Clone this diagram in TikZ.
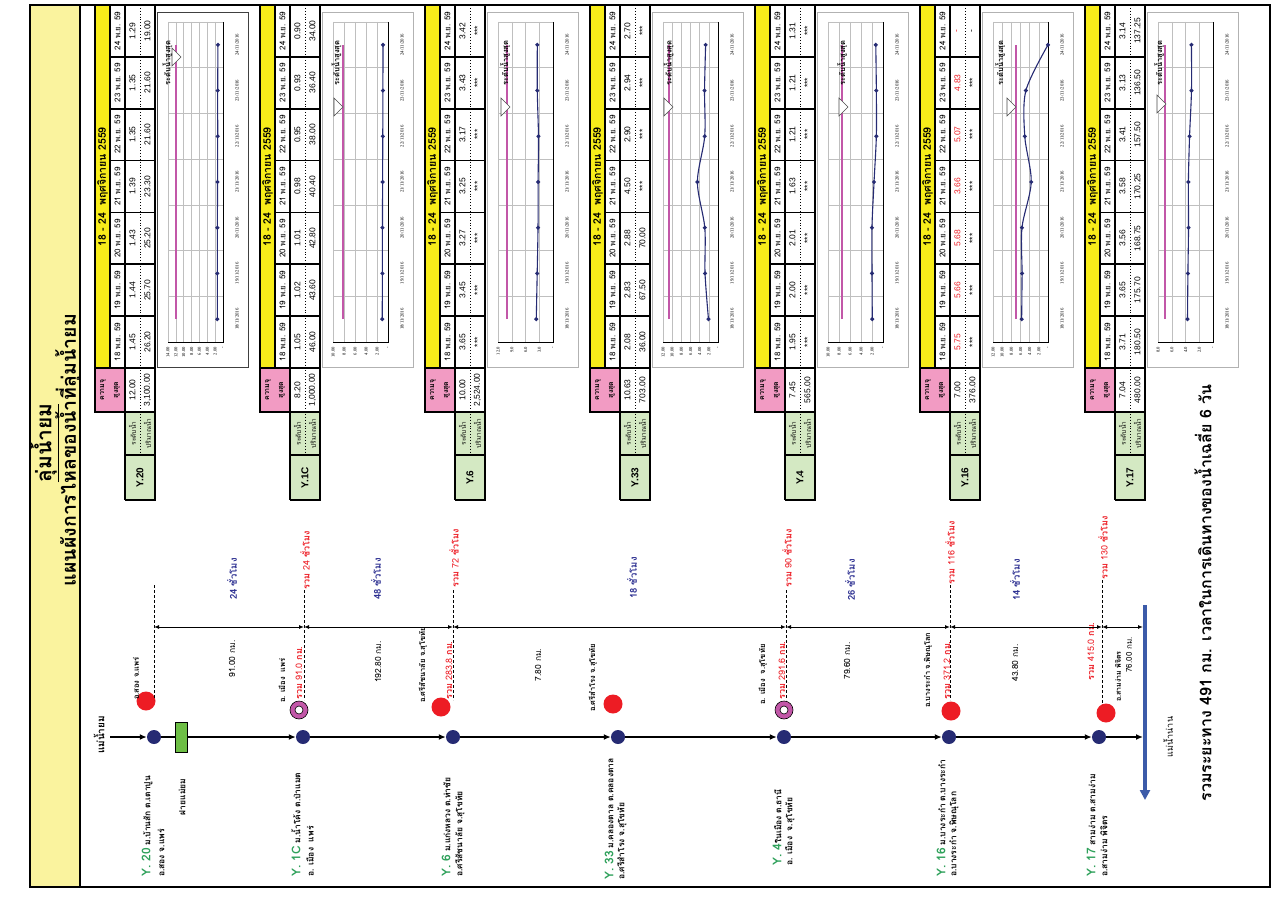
\documentclass[tikz,border=0pt]{standalone}
\usepackage{fontspec}
\setmainfont{Loma}[Script=Thai]
\newfontfamily\latf{Liberation Sans}
\newfontfamily\serf{Liberation Serif}
\usetikzlibrary{arrows.meta}
\newcommand\fsz[1]{\fontsize{#1}{#1}\selectfont}
\definecolor{bandy}{HTML}{FAF39E}
\definecolor{hdry}{HTML}{F7EC1A}
\definecolor{pinkc}{HTML}{F29BC3}
\definecolor{grc}{HTML}{D4E9C3}
\definecolor{navy}{HTML}{262B73}
\definecolor{magl}{HTML}{C257A8}
\definecolor{redc}{HTML}{ED1C24}
\definecolor{ygreen}{HTML}{2FA15B}
\definecolor{hrblue}{HTML}{2E3192}
\definecolor{damg}{HTML}{6DBE45}
\definecolor{nanblue}{HTML}{3C5BA9}
\tikzset{
 rt/.style={rotate=90,inner sep=0pt},
 tb/.style={line width=1.6pt,black},
 gridl/.style={black!25,line width=0.5pt},
 stdot/.style={circle,fill=navy,minimum size=14pt,inner sep=0pt},
 redm/.style={circle,fill=redc,minimum size=19pt,inner sep=0pt},
 ringm/.style={circle,fill=magl,draw=black,line width=0.6pt,minimum size=18pt,inner sep=0pt},
 ringin/.style={circle,fill=white,draw=black,line width=0.6pt,minimum size=8pt,inner sep=0pt},
 river/.style={line width=2.2pt,-{Latex[length=7pt,width=6pt]}},
 dimln/.style={line width=1pt,{Latex[length=5pt,width=4pt]}-{Latex[length=5pt,width=4pt]}},
 dsh/.style={line width=0.8pt,dash pattern=on 3pt off 2pt},
 stlab/.style={rt,anchor=west,font=\bfseries\fsz{8.5}},
 loclab/.style={rt,anchor=west,font=\bfseries\fsz{7.5}},
 totlab/.style={rt,anchor=west,text=redc,font=\bfseries\fsz{9}},
 kmlab/.style={rt,font=\fsz{8.5}},
 hrlab/.style={rt,text=hrblue,font=\bfseries\fsz{9.5}},
}
\newcommand\sttab[7]{%
\begin{scope}[shift={(#1,0)}]
\fill[hdry] (0,5) rectangle (15,368);
\fill[white] (15,5) rectangle (60,368);
\fill[pinkc] (0,368) rectangle (30,412);
\fill[white] (30,368) rectangle (60,412);
\fill[grc] (30,412) rectangle (60,500);
\node[rt,font=\bfseries\fsz{10.5}] at (7.5,187) {18 - 24 \ พฤศจิกายน 2559};
\node[rt,font=\bfseries\fsz{7}] at (8,390) {ความจุ};
\node[rt,font=\bfseries\fsz{7}] at (22,390) {สูงสุด};
\node[rt,font=\latf\fsz{8.5}] at (37.5,390) {#3};
\node[rt,font=\latf\fsz{8.5}] at (52.5,390) {#4};
\node[rt,font=\fsz{6.5}] at (37.5,433.5) {ระดับน้ำ};
\node[rt,font=\fsz{6.5}] at (52.5,433.5) {ปริมาณน้ำ};
\node[rt,font=\latf\bfseries\fsz{10}] at (45,477.5) {#2};
\foreach \dd [count=\kk from 0] in {18,...,24}
  \node[rt,font=\fsz{8}] at (22.5,{368-51.857*(\kk+0.5)}) {\dd\ พ.ย. 59};
\foreach \vv [count=\kk from 0] in {#5}
  \node[rt,font=\latf\fsz{8.5},text=#7] at (37.5,{368-51.857*(\kk+0.5)}) {\vv};
\foreach \vv [count=\kk from 0] in {#6}
  \node[rt,font=\latf\fsz{8.5}] at (52.5,{368-51.857*(\kk+0.5)}) {\vv};
\draw[line width=0.9pt,dotted] (45,5) -- (45,455);
\foreach \kk in {1,...,6} \draw[tb] (15,{368-51.857*\kk}) -- (60,{368-51.857*\kk});
\draw[tb] (15,5) -- (15,368);
\draw[tb] (30,5) -- (30,500);
\draw[tb] (0,368) -- (60,368);
\draw[tb] (30,412) -- (60,412);
\draw[tb] (30,455) -- (60,455);
\draw[tb] (0,5) -- (0,412) -- (30,412);
\draw[tb] (60,5) -- (60,500) -- (30,500);
\draw[tb] (0,5) -- (60,5);
\end{scope}}
\newcommand\stchart[9]{%
\begin{scope}[shift={(#1,0)}]
\filldraw[fill=white,draw=#9,line width=0.9pt] (62,12) rectangle (153,367);
\foreach \vv/\lb in {#3} {
  \draw[gridl] ({128-55*\vv/#2},22) -- ({128-55*\vv/#2},342);
  \node[rt,anchor=east,font=\serf\fsz{4.6}] at ({128-55*\vv/#2},347) {\lb};
}
\foreach \kk in {0,...,7} \draw[gridl] (73,{342-45.714*\kk}) -- (128,{342-45.714*\kk});
\foreach \dd [count=\kk from 0] in {18,...,24}
  \node[rt,font=\serf\fsz{4.8}] at (142,{342-45.714*(\kk+0.5)}) {\dd/11/2016};
\draw[line width=0.8pt] (73,342) -- (128,342) -- (128,22);
\draw[magl,line width=2.2pt] ({128-55*#4/#2},{342-45.714*0.5}) -- ({128-55*#4/#2},{342-45.714*6.5});
\foreach \vv [count=\kk from 0] in {#5}
  \coordinate (c#1-\kk) at ({128-55*\vv/#2},{342-45.714*(\kk+0.5)});
\draw[navy,line width=1.1pt] plot[smooth,tension=0.5] coordinates {(c#1-0) (c#1-1) (c#1-2) (c#1-3) (c#1-4) (c#1-5) (c#1-6)};
\foreach \kk in {0,...,6} \fill[navy] (c#1-\kk) ++(-2.2,0) -- ++(2.2,-2.2) -- ++(2.2,2.2) -- ++(-2.2,2.2) -- cycle;
\filldraw[fill=white,draw=black!70,line width=0.6pt] (#7,{#8-9}) -- ({#7+9},#8) -- (#7,{#8+9}) -- cycle;
\node[rt,font=\bfseries\fsz{7.5}] at (#6,63) {ระดับน้ำสูงสุด};
\end{scope}}
\begin{document}
\begin{tikzpicture}[x=1pt,y=-1pt]
\useasboundingbox (0,0) rectangle (1272,899);
\fill[white] (0,0) rectangle (1272,899);
\fill[bandy] (30,5) rectangle (80,887);
\draw[line width=2pt] (30,5) rectangle (1270,887);
\draw[line width=2pt] (80,5) -- (80,887);
% title
\node[rt,font=\bfseries\fsz{21}] (t1) at (44,443) {\underline{ลุ่มน้ำยม}};
\node[rt,font=\bfseries\fsz{19.5}] (t2) at (68,450) {แผนผังการไหลของน้ำที่ลุ่มน้ำยม};
% tables
\sttab{95}{Y.20}{12.00}{3,100.00}{1.45,1.44,1.43,1.39,1.35,1.35,1.29}{26.20,25.70,25.20,23.30,21.60,21.60,19.00}{black}
\sttab{260}{Y.1C}{8.20}{1,000.00}{1.05,1.02,1.01,0.98,0.95,0.93,0.90}{46.00,43.60,42.80,40.40,38.00,36.40,34.00}{black}
\sttab{425}{Y.6}{10.00}{2,524.00}{3.65,3.45,3.27,3.25,3.17,3.43,3.42}{***,***,***,***,***,***,***}{black}
\sttab{590}{Y.33}{10.63}{703.00}{2.08,2.83,2.88,4.50,2.90,2.94,2.70}{36.00,67.50,70.00,***,***,***,***}{black}
\sttab{755}{Y.4}{7.45}{565.00}{1.95,2.00,2.01,1.63,1.21,1.21,1.31}{***,***,***,***,***,***,***}{black}
\sttab{920}{Y.16}{7.00}{376.00}{5.75,5.66,5.68,3.66,5.07,4.83,-}{***,***,***,***,***,***,-}{redc}
\sttab{1085}{Y.17}{7.04}{480.00}{3.71,3.65,3.56,3.58,3.41,3.13,3.14}{180.50,175.70,168.75,170.25,157.50,136.50,137.25}{black}
% charts
\stchart{95}{14}{0/-,2/2.00,4/4.00,6/6.00,8/8.00,10/10.00,12/12.00,14/14.00}{12}{1.45,1.44,1.43,1.39,1.35,1.35,1.29}{72.5}{77}{57}{black!75}
\stchart{260}{10}{0/-,2/2.00,4/4.00,6/6.00,8/8.00,10/10.00}{8.2}{1.05,1.02,1.01,0.98,0.95,0.93,0.90}{76.5}{74}{107}{black!30}
\stchart{425}{12}{0/-,3/3.0,6/6.0,9/9.0,12/12.0}{10}{3.65,3.45,3.27,3.25,3.17,3.43,3.42}{80}{76}{107}{black!30}
\stchart{590}{12}{0/-,2/2.00,4/4.00,6/6.00,8/8.00,10/10.00,12/12.00}{10.63}{2.08,2.83,2.88,4.50,2.90,2.94,2.70}{78.5}{74}{107}{black!30}
\stchart{755}{10}{0/-,2/2.00,4/4.00,6/6.00,8/8.00,10/10.00}{7.45}{1.95,2.00,2.01,1.63,1.21,1.21,1.31}{87}{84}{107}{black!30}
\stchart{920}{12}{0/-,2/2.00,4/4.00,6/6.00,8/8.00,10/10.00,12/12.00}{7}{5.75,5.66,5.68,3.66,5.07,4.83,0}{80}{87}{107}{black!30}
\stchart{1085}{8}{0/-,2/2.0,4/4.0,6/6.0,8/8.0}{7.04}{3.71,3.65,3.56,3.58,3.41,3.13,3.14}{74}{72}{104}{black!30}
% river
\node[stdot] (d20) at (154,737) {};
\node[stdot] (d1c) at (303,737) {};
\node[stdot] (d6) at (453,737) {};
\node[stdot] (d33) at (618,737) {};
\node[stdot] (d4) at (784,737) {};
\node[stdot] (d16) at (949,737) {};
\node[stdot] (d17) at (1099,737) {};
\coordinate (rs) at (110,737);
\coordinate (rn) at (1143,737);
\draw[river] (rs) -- (d20);
\draw[river] (d20) -- (d1c);
\draw[river] (d1c) -- (d6);
\draw[river] (d6) -- (d33);
\draw[river] (d33) -- (d4);
\draw[river] (d4) -- (d16);
\draw[river] (d16) -- (d17);
\draw[river] (d17) -- (rn);
\node[draw=black,fill=damg,line width=0.6pt,minimum width=12pt,minimum height=30pt,inner sep=0pt] (dam) at (181,737) {};
\node[rt,font=\bfseries\fsz{8.5}] (damlab) at (182,797) {ฝายแม่ยม};
\node[rt,font=\bfseries\fsz{10}] (ymlab) at (99,735) {แม่น้ำยม};
\coordinate (nt) at (1145,605);
\coordinate (nb) at (1145,800);
\draw[nanblue,line width=4pt,-{Triangle[length=10pt,width=10pt]}] (nt) -- (nb);
\node[rt,font=\fsz{9}] (nanlab) at (1168,737) {แม่น้ำน่าน};
% markers
\node[redm] (m20) at (146,701) {};
\node[ringm] (m1c) at (299,710) {}; \node[ringin] (m1ci) at (m1c) {};
\node[redm] (m6) at (441,707) {};
\node[redm] (m33) at (613,704) {};
\node[ringm] (m4) at (784,710) {}; \node[ringin] (m4i) at (m4) {};
\node[redm] (m16) at (951,711) {};
\node[redm] (m17) at (1106,713) {};
\node[loclab] (l20) at (136,700) {อ.สอง จ.แพร่};
\node[loclab] (l1c) at (282,703) {อ. เมือง \ แพร่};
\node[loclab] (l6) at (423,703) {อ.ศรีสัชนาลัย จ.สุโขทัย};
\node[loclab] (l33) at (593,712) {อ.ศรีสำโรง จ.สุโขทัย};
\node[loclab] (l4) at (763,705) {อ. เมือง \ จ.สุโขทัย};
\node[loclab] (l16) at (928,708) {อ.บางระกำ จ.พิษณุโลก};
\node[loclab,font=\bfseries\fsz{7}] (l17) at (1118,702) {อ.สามง่าม พิจิตร};
% dashed verticals
\coordinate (q20t) at (154,585); \coordinate (q20b) at (154,700);
\coordinate (q1ct) at (304,590); \coordinate (q1cb) at (304,700);
\coordinate (q6t) at (453,590); \coordinate (q6b) at (453,700);
\coordinate (q4t) at (786,590); \coordinate (q4b) at (786,700);
\coordinate (q16t) at (950,585); \coordinate (q16b) at (950,700);
\coordinate (q17t) at (1102,580); \coordinate (q17b) at (1102,705);
\foreach \nn in {20,1c,6,4,16,17} \draw[dsh] (q\nn t) -- (q\nn b);
% totals
\node[totlab] (k1c) at (299,700) {รวม {\mdseries 91.0} กม.};
\node[totlab] (h1c) at (305,590) {รวม {\mdseries 24} ชั่วโมง};
\node[totlab] (k6) at (449,700) {รวม {\mdseries 283.8} กม.};
\node[totlab] (h6) at (454,588) {รวม {\mdseries 72} ชั่วโมง};
\node[totlab] (k4) at (782,700) {รวม {\mdseries 291.6} กม.};
\node[totlab] (h4) at (787,588) {รวม {\mdseries 90} ชั่วโมง};
\node[totlab] (k16) at (947,700) {รวม {\mdseries 371.2} กม.};
\node[totlab] (h16) at (950,585) {รวม {\mdseries 116} ชั่วโมง};
\node[totlab] (k17) at (1091,681) {รวม {\mdseries 415.0} กม.};
\node[totlab] (h17) at (1103,580) {รวม {\mdseries 130} ชั่วโมง};
% distance line
\coordinate (e20) at (154,627);
\coordinate (e1c) at (304,627);
\coordinate (e6) at (453,627);
\coordinate (e4) at (786,627);
\coordinate (e16) at (950,627);
\coordinate (e17) at (1102,627);
\coordinate (en) at (1143,627);
\draw[dimln] (e20) -- (e1c);
\draw[dimln] (e1c) -- (e6);
\draw[dimln] (e6) -- (e4);
\draw[dimln] (e4) -- (e16);
\draw[dimln] (e16) -- (e17);
\draw[dimln] (e17) -- (en);
\node[kmlab] at (232,659) {91.00 กม.};
\node[hrlab] at (232,579) {24 ชั่วโมง};
\node[kmlab] at (378,662) {192.80 กม.};
\node[hrlab] at (376,579) {48 ชั่วโมง};
\node[kmlab] at (538,665) {7.80 กม.};
\node[hrlab] at (632,578) {18 ชั่วโมง};
\node[kmlab] at (847,661) {79.60 กม.};
\node[hrlab] at (850,580) {26 ชั่วโมง};
\node[kmlab] at (1015,663) {43.80 กม.};
\node[hrlab] at (1015,580) {14 ชั่วโมง};
\node[kmlab,font=\fsz{8}] at (1129,655) {76.00 กม.};
% station labels
\node[stlab] (s20a) at (147,877) {{\color{ygreen}\fsz{12}Y. 20} ม.บ้านสัก ต.เตาปูน};
\node[stlab] (s20b) at (161,877) {อ.สอง จ.แพร่};
\node[stlab] (s1ca) at (296,877) {{\color{ygreen}\fsz{12}Y. 1C} ม.น้ำโค้ง ต.ป่าแมต};
\node[stlab] (s1cb) at (310,877) {อ. เมือง \ แพร่};
\node[stlab] (s6a) at (446,877) {{\color{ygreen}\fsz{12}Y. 6} ม.แก่งหลวง ต.ท่าชัย};
\node[stlab] (s6b) at (460,877) {อ.ศรีสัชนาลัย จ.สุโขทัย};
\node[stlab] (s33a) at (609,880) {{\color{ygreen}\fsz{12}Y. 33} ม.คลองตาล ต.คลองตาล};
\node[stlab] (s33b) at (622,880) {อ.ศรีสำโรง จ.สุโขทัย};
\node[stlab] (s4a) at (777,866) {{\color{ygreen}\fsz{12}Y. 4}ในเมือง ต.ธานี};
\node[stlab] (s4b) at (790,866) {อ. เมือง \ จ.สุโขทัย};
\node[stlab] (s16a) at (941,877) {{\color{ygreen}\fsz{12}Y. 16} ม.บางระกำ ต.บางระกำ};
\node[stlab] (s16b) at (954,877) {อ.บางระกำ จ.พิษณุโลก};
\node[stlab] (s17a) at (1091,877) {{\color{ygreen}\fsz{12}Y. 17} สามง่าม ต.สามง่าม};
\node[stlab] (s17b) at (1104,877) {อ.สามง่าม พิจิตร};
% footer
\node[rt,font=\bfseries\fsz{16}] (foot) at (1203,593) {รวมระยะทาง 491 กม. เวลาในการเดินทางของน้ำเฉลี่ย 6 วัน};
\end{tikzpicture}
\end{document}
